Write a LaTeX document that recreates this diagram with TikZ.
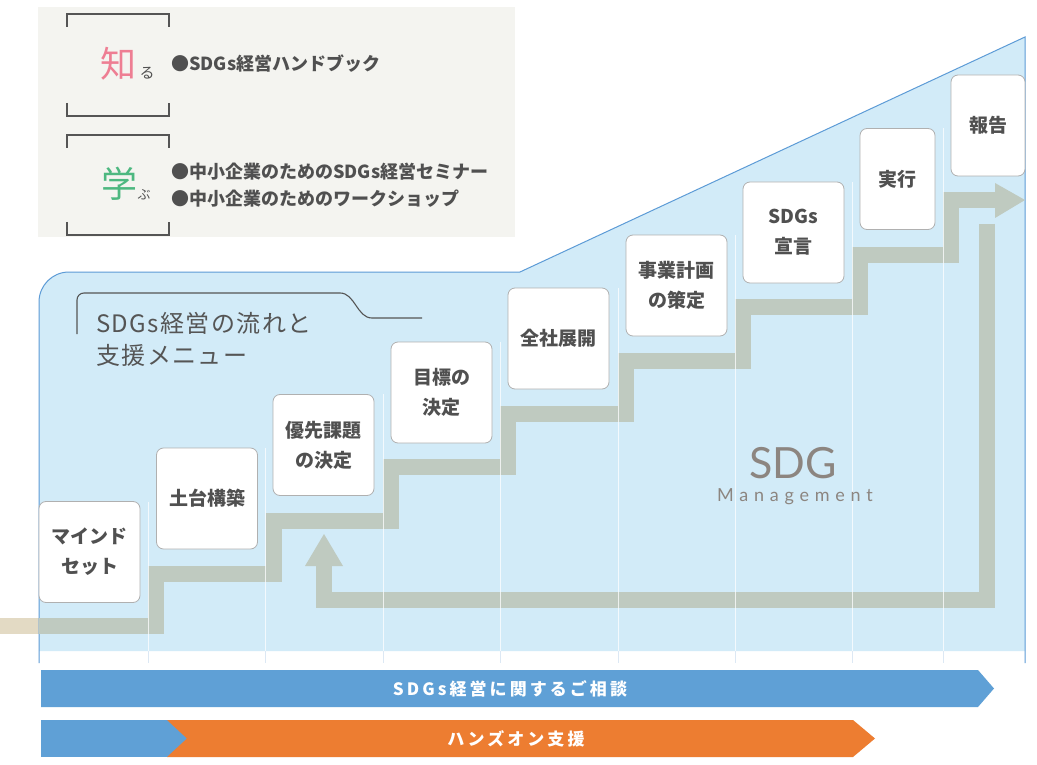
\documentclass[tikz,border=0pt]{standalone}
\usepackage{fontspec}
\newfontfamily\jp{Noto Sans CJK JP}
\newfontfamily\jptitle{Noto Sans CJK JP}[LetterSpace=6]
\newfontfamily\jpls{Noto Sans CJK JP}[LetterSpace=18]
\newfontfamily\latofont{Lato}
\newfontfamily\latols{Lato}[LetterSpace=32]
\definecolor{panelc}{HTML}{F4F4F0}
\definecolor{brk}{HTML}{555555}
\definecolor{pinkc}{HTML}{EE7E93}
\definecolor{greenc}{HTML}{4DB880}
\definecolor{textdark}{HTML}{505050}
\definecolor{bluefill}{HTML}{D2EBF8}
\definecolor{blueline}{HTML}{5C9BD6}
\definecolor{bandc}{HTML}{BFCAC0}
\definecolor{tanc}{HTML}{E3DAC4}
\definecolor{boxgray}{HTML}{B0B0B0}
\definecolor{arrowblue}{HTML}{5FA0D6}
\definecolor{arroworange}{HTML}{ED7D31}
\definecolor{sdggray}{HTML}{8C8580}
\definecolor{ticklight}{HTML}{DCE8F4}
\begin{document}
\begin{tikzpicture}[x=1pt,y=-1pt,
  stepbox/.style={draw=boxgray, fill=white, rounded corners=7pt, line width=0.8pt,
    minimum width=101pt, minimum height=101pt, inner sep=0pt, align=center,
    text=textdark, font=\jp\bfseries\fontsize{19}{30}\selectfont},
  band/.style={draw=bandc, line width=16pt},
  bracket/.style={draw=brk, line width=1.2pt},
  listtext/.style={anchor=west, inner sep=0pt, text=textdark, font=\jp\bfseries\fontsize{18}{22}\selectfont},
  arrowtext/.style={text=white, inner sep=0pt, font=\jpls\bfseries\fontsize{17}{20}\selectfont},
  colline/.style={draw=white, line width=1pt}
]
\useasboundingbox (0,0) rectangle (1037,765);
\fill[white] (0,0) rectangle (1037,765);

% top-left panel
\fill[panelc] (38,7) rectangle (515,237);
\draw[bracket] (67,27) -- (67,14) -- (169,14) -- (169,27);
\draw[bracket] (67,103) -- (67,116) -- (169,116) -- (169,103);
\draw[bracket] (67,148) -- (67,135) -- (169,135) -- (169,148);
\draw[bracket] (67,222) -- (67,235) -- (169,235) -- (169,222);
\node[text=pinkc, inner sep=0pt, font=\jp\fontsize{36}{40}\selectfont] (shiru) at (118,64) {知};
\node[text=textdark, inner sep=0pt, font=\jp\fontsize{15}{18}\selectfont] (ru) at (147,73) {る};
\node[text=greenc, inner sep=0pt, font=\jp\fontsize{36}{40}\selectfont] (manabu) at (119,184) {学};
\node[text=textdark, inner sep=0pt, font=\jp\fontsize{13}{16}\selectfont] (bu) at (144,195) {ぶ};
\node[listtext] (l1) at (171,64) {●SDGs経営ハンドブック};
\node[listtext] (l2) at (171,172) {●中小企業のためのSDGs経営セミナー};
\node[listtext] (l3) at (171,199) {●中小企業のためのワークショップ};

% tan band outside
\fill[tanc] (0,618) rectangle (39,634);

% blue region
\fill[bluefill] (39,651) -- (39,302) .. controls (39,285.4) and (52.4,272) .. (69,272)
  -- (520,272) -- (1025,37) -- (1025,651) -- cycle;
\draw[blueline, line width=1pt] (39,663) -- (39,302) .. controls (39,285.4) and (52.4,272) .. (69,272)
  -- (520,272) -- (1025,37) -- (1025,663);

% stair band
\coordinate (s0) at (39,626);
\coordinate (s1) at (995,200);
\draw[band] (s0) -- (155.5,626) -- (155.5,574) -- (273.5,574) -- (273.5,520.5)
  -- (391,520.5) -- (391,466.5) -- (508,466.5) -- (508,414) -- (625.5,414)
  -- (625.5,360.5) -- (742.5,360.5) -- (742.5,306.5) -- (859.5,306.5)
  -- (859.5,254.5) -- (951,254.5) -- (951,200) -- (s1);
\fill[bandc] (995,183) -- (1025,200) -- (995,218) -- cycle;

% return band
\coordinate (r0) at (987,224);
\coordinate (r1) at (324,566);
\draw[band] (r0) -- (987,600) -- (324,600) -- (r1);
\fill[bandc] (305,566) -- (324,534) -- (343,566) -- cycle;

% column lines (faintly visible across the bands)
\foreach \xx/\yy in {148/502, 265/448, 383/394, 500/342, 618/288, 735/235, 852/182, 943/128}{
  \draw[colline, opacity=0.75] (\xx,\yy) -- (\xx,651);
  \draw[ticklight, line width=1pt] (\xx,651) -- (\xx,663);
}

% step boxes
\node[stepbox] (b1) at (89.5,552) {マインド\\セット};
\node[stepbox] (b2) at (207,498.5) {土台構築};
\node[stepbox] (b3) at (323.5,445) {優先課題\\の決定};
\node[stepbox] (b4) at (441.5,392.5) {目標の\\決定};
\node[stepbox] (b5) at (558.5,338.5) {全社展開};
\node[stepbox] (b6) at (676.5,285.5) {事業計画\\の策定};
\node[stepbox] (b7) at (793.5,232.5) {SDGs\\宣言};
\node[stepbox, minimum width=75pt] (b8) at (897.5,179) {実行};
\node[stepbox, minimum width=74pt] (b9) at (988,125.5) {報告};

% title
\draw[brk, line width=1.1pt] (77,334) -- (77,300) .. controls (77,296) and (80,293) .. (84,293)
  -- (340,293) .. controls (355,293) and (357,318) .. (372,318) -- (422,318);
\node[anchor=west, align=left, inner sep=0pt, text=brk, font=\jptitle\fontsize{24}{32}\selectfont] (title) at (96,339) {SDGs経営の流れと\\支援メニュー};

% SDG Management
\node[text=sdggray, inner sep=0pt, font=\latofont\fontsize{43}{46}\selectfont] (sdg) at (793,463) {SDG};
\node[text=sdggray, inner sep=0pt, font=\latols\fontsize{18}{20}\selectfont] (mgmt) at (795,497) {Management};

% bottom arrows
\fill[arrowblue] (41,670) -- (978,670) -- (994,688.5) -- (978,707) -- (41,707) -- cycle;
\node[arrowtext] (consult) at (510,689) {SDGs経営に関するご相談};
\fill[arrowblue] (41,720) rectangle (187,757);
\fill[arroworange] (167,720) -- (853,720) -- (875,738.5) -- (853,757) -- (167,757) -- (187,738.5) -- cycle;
\node[arrowtext] (handson) at (516,739) {ハンズオン支援};
\end{tikzpicture}
\end{document}
